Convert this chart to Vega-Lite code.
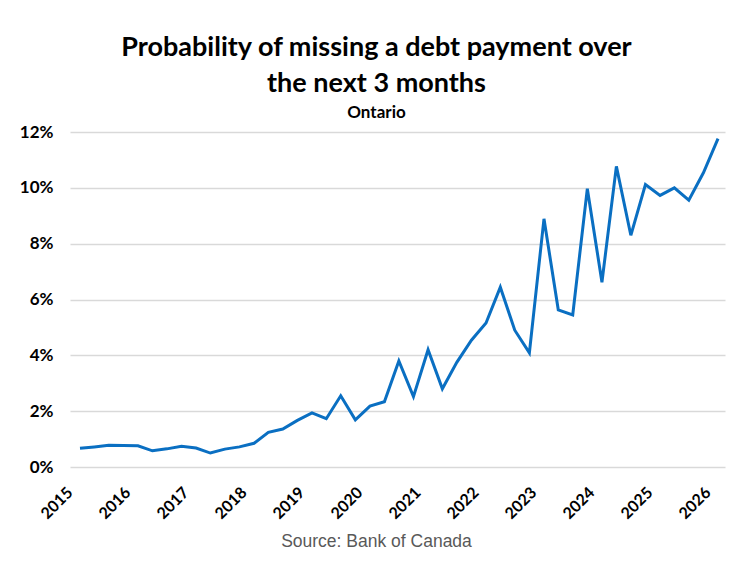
{
  "$schema": "https://vega.github.io/schema/vega-lite/v6.json",
  "width": 655,
  "height": 335,
  "autosize": {"type": "none"},
  "padding": {"left": 70, "top": 132, "right": 5, "bottom": 96},
  "background": "white",
  "config": {"view": {"stroke": null}},
  "title": {
    "text": ["Probability of missing a debt payment over", "the next 3 months"],
    "subtitle": "Ontario",
    "anchor": "middle",
    "font": "Lato",
    "fontSize": 27,
    "fontWeight": "bold",
    "color": "#000000",
    "lineHeight": 36,
    "subtitleFont": "Lato",
    "subtitleFontSize": 17,
    "subtitleFontWeight": "bold",
    "subtitleColor": "#000000",
    "subtitlePadding": 7,
    "offset": 1,
    "dx": -21
  },
  "data": {
    "values": [
      {"quarter": "2015-01-01", "pct": 0.67},
      {"quarter": "2015-04-01", "pct": 0.72},
      {"quarter": "2015-07-01", "pct": 0.78},
      {"quarter": "2015-10-01", "pct": 0.77},
      {"quarter": "2016-01-01", "pct": 0.76},
      {"quarter": "2016-04-01", "pct": 0.58},
      {"quarter": "2016-07-01", "pct": 0.65},
      {"quarter": "2016-10-01", "pct": 0.74},
      {"quarter": "2017-01-01", "pct": 0.68},
      {"quarter": "2017-04-01", "pct": 0.50},
      {"quarter": "2017-07-01", "pct": 0.64},
      {"quarter": "2017-10-01", "pct": 0.72},
      {"quarter": "2018-01-01", "pct": 0.85},
      {"quarter": "2018-04-01", "pct": 1.24},
      {"quarter": "2018-07-01", "pct": 1.36},
      {"quarter": "2018-10-01", "pct": 1.67},
      {"quarter": "2019-01-01", "pct": 1.94},
      {"quarter": "2019-04-01", "pct": 1.73},
      {"quarter": "2019-07-01", "pct": 2.55},
      {"quarter": "2019-10-01", "pct": 1.69},
      {"quarter": "2020-01-01", "pct": 2.18},
      {"quarter": "2020-04-01", "pct": 2.34},
      {"quarter": "2020-07-01", "pct": 3.80},
      {"quarter": "2020-10-01", "pct": 2.52},
      {"quarter": "2021-01-01", "pct": 4.20},
      {"quarter": "2021-04-01", "pct": 2.80},
      {"quarter": "2021-07-01", "pct": 3.75},
      {"quarter": "2021-10-01", "pct": 4.54},
      {"quarter": "2022-01-01", "pct": 5.16},
      {"quarter": "2022-04-01", "pct": 6.44},
      {"quarter": "2022-07-01", "pct": 4.90},
      {"quarter": "2022-10-01", "pct": 4.09},
      {"quarter": "2023-01-01", "pct": 8.89},
      {"quarter": "2023-04-01", "pct": 5.63},
      {"quarter": "2023-07-01", "pct": 5.45},
      {"quarter": "2023-10-01", "pct": 9.97},
      {"quarter": "2024-01-01", "pct": 6.62},
      {"quarter": "2024-04-01", "pct": 10.77},
      {"quarter": "2024-07-01", "pct": 8.30},
      {"quarter": "2024-10-01", "pct": 10.12},
      {"quarter": "2025-01-01", "pct": 9.73},
      {"quarter": "2025-04-01", "pct": 10.00},
      {"quarter": "2025-07-01", "pct": 9.56},
      {"quarter": "2025-10-01", "pct": 10.54},
      {"quarter": "2026-01-01", "pct": 11.76}
    ]
  },
  "mark": {"type": "line", "color": "#0a6fc2", "strokeWidth": 3, "strokeJoin": "miter", "clip": false},
  "encoding": {
    "x": {
      "field": "quarter",
      "type": "temporal",
      "scale": {"domain": ["2014-10-30", "2026-02-14"], "nice": false},
      "axis": {
        "values": ["2015-01-01", "2016-01-01", "2017-01-01", "2018-01-01", "2019-01-01", "2020-01-01", "2021-01-01", "2022-01-01", "2023-01-01", "2024-01-01", "2025-01-01", "2026-01-01"],
        "format": "%Y",
        "labelAngle": -45,
        "labelFont": "Lato",
        "labelFontSize": 16,
        "labelFontWeight": "bold",
        "labelColor": "#000000",
        "labelPadding": 17,
        "labelOffset": -16,
        "labelOverlap": false,
        "ticks": false,
        "domain": false,
        "grid": false,
        "title": "Source: Bank of Canada",
        "titleFont": "Liberation Sans",
        "titleFontSize": 17.5,
        "titleFontWeight": "normal",
        "titleColor": "#595959",
        "titleX": 306,
        "titleY": 74,
        "titleBaseline": "middle",
        "titleAnchor": "middle",
        "titleAlign": "center"
      }
    },
    "y": {
      "field": "pct",
      "type": "quantitative",
      "scale": {"domain": [0, 12], "nice": false},
      "axis": {
        "values": [0, 2, 4, 6, 8, 10, 12],
        "labelExpr": "datum.value + '%'",
        "labelFont": "Lato",
        "labelFontSize": 17,
        "labelFontWeight": "bold",
        "labelColor": "#000000",
        "labelPadding": 17,
        "ticks": false,
        "domain": false,
        "grid": true,
        "gridColor": "#d9d9d9",
        "gridWidth": 1.5,
        "title": null
      }
    }
  }
}
